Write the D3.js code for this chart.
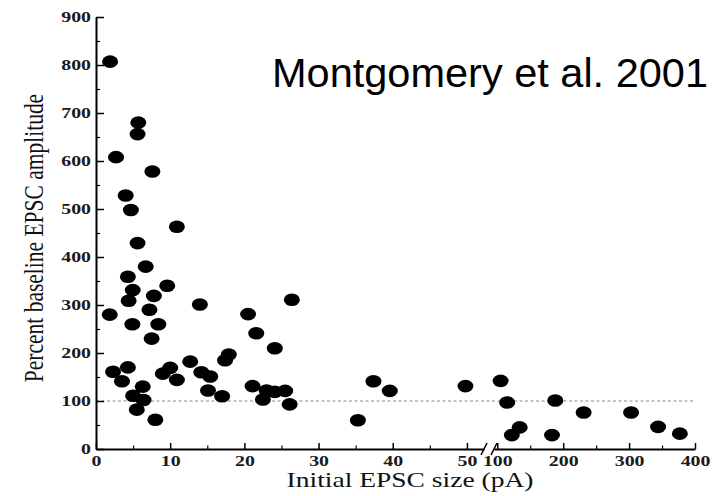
<!DOCTYPE html>
<html><head><meta charset="utf-8">
<script src="https://cdn.jsdelivr.net/npm/d3@7"></script>
<style>body{margin:0;background:#fff}</style>
</head><body>
<svg id="c" width="718" height="496"></svg>
<script>
// ---- data ----
const leftX = [1.9,2.7,5.7,5.6,7.6,4.0,4.7,10.9,5.6,6.7,4.3,9.6,4.95,7.8,4.4,14.0,1.85,7.2,4.9,8.4,7.5,
  2.3,4.3,3.5,6.3,5.0,6.4,5.5,8.0,9.0,10.0,10.9,12.7,14.2,15.4,15.1,17.0,17.4,17.9,
  20.5,21.6,24.1,26.4,21.1,23.0,22.5,24.1,25.5,26.1,37.4,39.6,35.3,49.8];
const leftY = [807,608,680,656,578,528,498,463,429,380,359,340,331,319,309,301,280,290,260,260,230,
  161,170,141,130,111,102,82,61,157,169,144,182,160,151,122,110,185,197,
  281,241,210,311,131,122,103,119,121,93,141,121,60,131];
const rightX = [105,115,134,122,188,183,231,303,344,377];
const rightY = [142,97,45,29,101,29,76,76,46,32];
const yTicks = [0,100,200,300,400,500,600,700,800,900];
const yMinor = [50,150,250,350,450,550,650,750,850];
const xLeftTicks = [0,10,20,30,40,50];
const xLeftMinor = [5,15,25,35,45];
const xRightTicks = [100,200,300,400];
const xRightMinor = [150,250,350];
const baseline = 100;
const titleText = "Montgomery et al. 2001";
const xLabel = "Initial EPSC size (pA)";
const yLabel = "Percent baseline EPSC amplitude";

// ---- layout ----
const SX = 1.28;
const serif = "'Liberation Serif','Times New Roman',serif";
const svg = d3.select("#c");
const y = d3.scaleLinear().domain([0,900]).range([449,17]);
const xL = d3.scaleLinear().domain([0,52.3]).range([96,484]);
const xR = d3.scaleLinear().domain([95,400]).range([494,695]);

function stretchTexts(g){
  g.selectAll(".tick text").each(function(){
    const t = d3.select(this);
    const x = +t.attr("x") || 0, yy = +t.attr("y") || 0;
    t.attr("transform", `translate(${x},${yy}) scale(${SX},1)`).attr("x",0).attr("y",0);
  });
}
function styleAxis(g){
  g.selectAll("path.domain").attr("stroke","#000").attr("stroke-width",2);
  g.selectAll(".tick line").attr("stroke","#000").attr("stroke-width",1.5);
  g.selectAll(".tick text").attr("font-family",serif).attr("font-size",15.5)
    .attr("font-weight","bold").attr("fill","#1a1a1a");
}

// baseline dashed line
svg.append("line")
  .attr("x1", xL(0)).attr("x2", xR(400))
  .attr("y1", y(baseline)).attr("y2", y(baseline))
  .attr("stroke","#8a8a8a").attr("stroke-width",1.2).attr("stroke-dasharray","3,2.5");

// y axis
const gy = svg.append("g").attr("transform",`translate(${xL(0)},0)`)
  .call(d3.axisLeft(y).tickValues(yTicks).tickSize(-8).tickSizeOuter(0).tickPadding(5));
styleAxis(gy); stretchTexts(gy);
const gym = svg.append("g").attr("transform",`translate(${xL(0)},0)`)
  .call(d3.axisLeft(y).tickValues(yMinor).tickSize(-4).tickFormat(""));
gym.select("path.domain").remove();
gym.selectAll(".tick line").attr("stroke","#000").attr("stroke-width",1.2);

// x axes
function xAxis(scale, major, minor){
  const g = svg.append("g").attr("transform",`translate(0,${y(0)})`)
    .call(d3.axisBottom(scale).tickValues(major).tickSize(-6).tickSizeOuter(0).tickPadding(6));
  styleAxis(g); stretchTexts(g);
  const gm = svg.append("g").attr("transform",`translate(0,${y(0)})`)
    .call(d3.axisBottom(scale).tickValues(minor).tickSize(-3.5).tickFormat(""));
  gm.select("path.domain").remove();
  gm.selectAll(".tick line").attr("stroke","#000").attr("stroke-width",1.2);
}
xAxis(xL, xLeftTicks, xLeftMinor);
xAxis(xR, xRightTicks, xRightMinor);

// break marks
[xL.range()[1], xR.range()[0]].forEach(bx=>{
  svg.append("line").attr("x1",bx-3).attr("x2",bx+3)
    .attr("y1",y(0)+6).attr("y2",y(0)-6)
    .attr("stroke","#000").attr("stroke-width",1.5);
});

// points
const pts = leftX.map((v,i)=>({px:xL(v), py:y(leftY[i])}))
  .concat(rightX.map((v,i)=>({px:xR(v), py:y(rightY[i])})));
svg.append("g").selectAll("ellipse").data(pts).enter().append("ellipse")
  .attr("cx",d=>d.px).attr("cy",d=>d.py).attr("rx",8).attr("ry",6.3).attr("fill","#000");

// labels
svg.append("text").attr("transform",`translate(410,487) scale(${SX},1)`)
  .attr("text-anchor","middle").attr("font-family",serif).attr("font-size",21.5).attr("fill","#111")
  .text(xLabel);
svg.append("text").attr("transform",`translate(43,238) scale(${SX},1) rotate(-90)`)
  .attr("text-anchor","middle").attr("font-family",serif).attr("font-size",21.5).attr("fill","#111")
  .text(yLabel);
svg.append("text").attr("x",272).attr("y",87)
  .attr("font-family","'Liberation Sans',Arial,sans-serif").attr("font-size",41.5).attr("fill","#000")
  .text(titleText);
</script>
</body></html>
